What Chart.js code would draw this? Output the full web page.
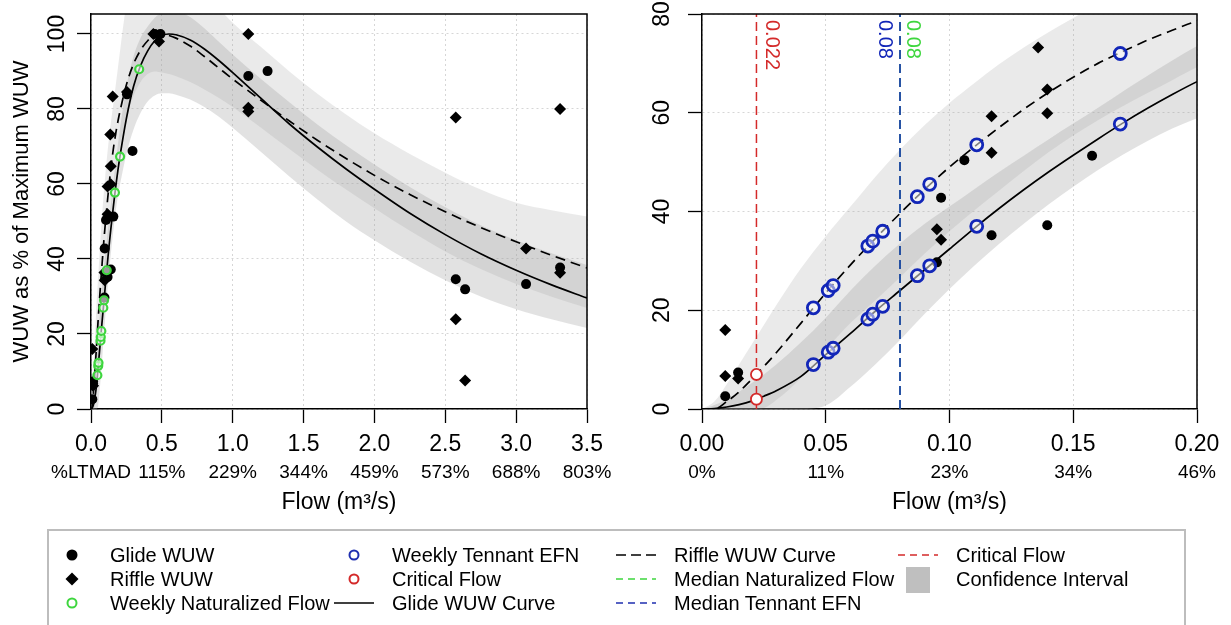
<!DOCTYPE html>
<html>
<head>
<meta charset="utf-8">
<script src="https://cdn.jsdelivr.net/npm/chart.js@4.4.1/dist/chart.umd.min.js"></script>
<style>
html,body{margin:0;padding:0;background:#fff;}
#wrap{position:relative;width:1231px;height:625px;overflow:hidden;font-family:'Liberation Sans',Arial,Helvetica,sans-serif;color:#000;}
#c1box{position:absolute;left:0;top:0;width:615px;height:525px;}
#c2box{position:absolute;left:615px;top:0;width:616px;height:525px;}
#legsym{position:absolute;left:0;top:0;}
.lt{position:absolute;font-size:20px;line-height:24px;white-space:nowrap;}
</style>
</head>
<body>
<div id="wrap">
  <div id="c1box"><canvas id="c1"></canvas></div>
  <div id="c2box"><canvas id="c2"></canvas></div>
  <svg id="legsym" width="1231" height="625">
    <rect x="48" y="530" width="1137" height="110" fill="none" stroke="#bdbdbd" stroke-width="2"/>
    <circle cx="72" cy="555" r="5.5" fill="#000"/>
    <polygon points="65.5,579 72,572.5 78.5,579 72,585.5" fill="#000"/>
    <circle cx="72" cy="603" r="4.5" fill="none" stroke="#3ed63e" stroke-width="2"/>
    <circle cx="354" cy="555" r="4.5" fill="none" stroke="#1f2fb0" stroke-width="2"/>
    <circle cx="354" cy="579" r="4.5" fill="none" stroke="#d42a2a" stroke-width="2"/>
    <line x1="334" y1="603" x2="374" y2="603" stroke="#000" stroke-width="1.6"/>
    <line x1="616" y1="555" x2="656" y2="555" stroke="#000" stroke-width="1.6" stroke-dasharray="10 5"/>
    <line x1="616" y1="579" x2="656" y2="579" stroke="#3ed63e" stroke-width="1.6" stroke-dasharray="7 5"/>
    <line x1="616" y1="603" x2="656" y2="603" stroke="#1f2fb0" stroke-width="1.6" stroke-dasharray="7 5"/>
    <line x1="898" y1="555" x2="938" y2="555" stroke="#d42a2a" stroke-width="1.6" stroke-dasharray="7 5"/>
    <rect x="906" y="567" width="24" height="26" fill="#bfbfbf"/>
  </svg>
  <div class="lt" style="left:110px;top:543px">Glide WUW</div>
  <div class="lt" style="left:110px;top:567px">Riffle WUW</div>
  <div class="lt" style="left:110px;top:591px">Weekly Naturalized Flow</div>
  <div class="lt" style="left:392px;top:543px">Weekly Tennant EFN</div>
  <div class="lt" style="left:392px;top:567px">Critical Flow</div>
  <div class="lt" style="left:392px;top:591px">Glide WUW Curve</div>
  <div class="lt" style="left:674px;top:543px">Riffle WUW Curve</div>
  <div class="lt" style="left:674px;top:567px">Median Naturalized Flow</div>
  <div class="lt" style="left:674px;top:591px">Median Tennant EFN</div>
  <div class="lt" style="left:956px;top:543px">Critical Flow</div>
  <div class="lt" style="left:956px;top:567px">Confidence Interval</div>
</div>
<script>
// ---------------- data ----------------
const flowGrid = [0, 0.005, 0.01, 0.015, 0.02, 0.025, 0.03, 0.04, 0.05, 0.06, 0.07, 0.08, 0.09, 0.1, 0.11, 0.12, 0.13, 0.14, 0.15, 0.16, 0.17, 0.18, 0.19, 0.2,
  0.25, 0.3, 0.35, 0.4, 0.45, 0.5, 0.55, 0.6, 0.7, 0.8, 0.9, 1.0, 1.2, 1.4, 1.6, 1.8, 2.0, 2.25, 2.5, 2.75, 3.0, 3.25, 3.5];
const glideCurve = [0, 0.1, 0.4, 0.9, 1.6, 2.6, 3.7, 6.6, 11.0, 15.3, 19.8, 24.0, 28.2, 32.4, 36.6, 40.6, 44.4, 48.0, 51.4, 54.7, 57.9, 60.9, 63.7, 66.3,
  77.5, 86.0, 91.6, 95.5, 98.2, 99.6, 100, 99.8, 98.4, 96.0, 93.0, 89.7, 82.8, 76.0, 69.8, 64.0, 58.6, 52.2, 46.5, 41.4, 37.0, 33.1, 29.6];
const riffleCurve = [0, 0, 1.5, 3.5, 6.0, 8.6, 11.4, 17.4, 23.5, 29.2, 34.5, 39.6, 44.5, 49.0, 53.1, 57.0, 60.7, 64.1, 67.2, 70.0, 72.4, 74.7, 76.7, 78.6,
  86.5, 92.0, 95.7, 98.2, 99.6, 100, 99.6, 98.9, 96.8, 94.0, 91.0, 88.0, 82.3, 76.8, 71.6, 66.8, 62.3, 57.2, 52.6, 48.4, 44.6, 41.0, 37.6];
const riffleBandLo = [0, 0, 0, 0, 0, 0.2, 1.8, 6.3, 12.0, 17.4, 22.0, 26.7, 31.5, 36.0, 40.2, 44.2, 48.2, 52.0, 55.4, 58.5, 61.3, 64.0, 66.6, 69.2,
  77.5, 83.5, 87.2, 89.3, 90.0, 89.7, 89.3, 88.7, 87.2, 85.2, 83.0, 80.5, 75.0, 69.3, 63.7, 58.5, 53.5, 47.5, 42.0, 37.3, 33.3, 29.9, 26.9];
const riffleBandHi = [0, 1.5, 5, 9, 13, 17, 21, 28.5, 35, 41, 47, 52.5, 57.5, 62, 66, 69.8, 73.2, 76.3, 79.2, 82, 85, 88, 91, 94,
  108, 116, 120, 122, 123, 123, 122, 121, 117, 112, 107, 103, 96.5, 90, 84, 78.5, 73.5, 68, 63, 58.5, 55, 53, 51.3];
const glideBandLo = [0, 0, 0, 0, 0, 0, 0, 0, 0.7, 4.5, 9, 14, 19.3, 24.3, 29, 33.4, 37.5, 41.4, 45, 48.4, 51.5, 54.3, 56.8, 58.9,
  68, 74.5, 79, 82, 83.6, 84.2, 84.2, 83.8, 82.5, 80.5, 78, 75, 68.5, 62, 55.8, 50, 45, 39.3, 34.3, 30, 26.6, 23.9, 21.6];
const glideBandHi = [0, 0.8, 2, 3.5, 5.2, 7, 9, 13.5, 18.5, 24, 29, 33.5, 37.5, 41, 44.5, 48, 51.3, 54.6, 57.8, 61, 64.3, 67.5, 70.6, 73.5,
  86, 94, 99, 102, 104.3, 105.8, 106.5, 106.2, 104.5, 101.5, 98, 94.5, 88, 81.8, 75.8, 70.3, 65.2, 59.2, 53.8, 49, 45, 41.5, 38.4];

const glideFlow = [0.0094, 0.0146, 0.0949, 0.0966, 0.106, 0.117, 0.1395, 0.1576, 0.254, 0.293, 0.45, 0.49, 1.11, 1.246, 2.574, 2.64, 3.07, 3.31];
const glideWUW  = [2.6, 7.4, 29.7, 42.8, 50.4, 35.2, 37.2, 51.3, 83.9, 68.8, 100, 100, 88.8, 90.1, 34.6, 31.9, 33.3, 37.7];
const riffleFlow = [0.0094, 0.0094, 0.0146, 0.0949, 0.0966, 0.117, 0.117, 0.1358, 0.1395, 0.1395, 0.153, 0.254, 0.44, 0.48, 1.11, 1.11, 1.11, 2.574, 2.574, 2.64, 3.07, 3.31, 3.31];
const riffleWUW  = [16.0, 6.7, 6.2, 36.4, 34.3, 59.3, 51.9, 73.2, 64.7, 59.9, 83.3, 84.5, 100, 98, 100, 80.3, 79.3, 77.7, 23.9, 7.6, 42.8, 80, 36.3];

const naturalFlow = [0.045, 0.051, 0.053, 0.067, 0.069, 0.073, 0.087, 0.092, 0.111, 0.169, 0.205, 0.34];
const naturalWUW  = [9, 11.5, 12.3, 18.2, 19.2, 20.8, 27, 29, 37, 57.7, 67.3, 90.6];
const tennantFlow = [0.045, 0.051, 0.053, 0.067, 0.069, 0.073, 0.087, 0.092, 0.111, 0.169];
const tennantGlideWUW  = [9, 11.5, 12.3, 18.2, 19.2, 20.8, 27, 29, 37, 57.7];
const tennantRiffleWUW = [20.5, 24, 25, 33, 34, 36, 43, 45.5, 53.5, 72];
const criticalFlow = 0.022;
const criticalWUW = [2, 7];
const medianNaturalFlow = 0.08;
const medianTennantFlow = 0.08;

const leftXTicks = [0, 0.5, 1.0, 1.5, 2.0, 2.5, 3.0, 3.5];
const leftXLabels = ['0.0', '0.5', '1.0', '1.5', '2.0', '2.5', '3.0', '3.5'];
const leftLtmad = ['%LTMAD', '115%', '229%', '344%', '459%', '573%', '688%', '803%'];
const leftYTicks = [0, 20, 40, 60, 80, 100];
const rightXTicks = [0, 0.05, 0.10, 0.15, 0.20];
const rightXLabels = ['0.00', '0.05', '0.10', '0.15', '0.20'];
const rightLtmad = ['0%', '11%', '23%', '34%', '46%'];
const rightYTicks = [0, 20, 40, 60, 80];

// ---------------- helpers ----------------
const FONT = "'Liberation Sans', Arial, Helvetica, sans-serif";
const RED = '#d42a2a', BLUE = '#1226b8', GREEN = '#3ed63e';
const BAND_R = 'rgba(160,160,160,0.22)';
const BAND_G = 'rgba(160,160,160,0.30)';
const pts = (xs, ys) => xs.map((x, i) => ({x: x, y: ys[i]}));

const boxPlugin = {
  id: 'box',
  afterDraw(chart) {
    const {ctx, chartArea: a} = chart;
    ctx.save();
    ctx.strokeStyle = '#000'; ctx.lineWidth = 1.5;
    ctx.beginPath();
    ctx.moveTo(a.left, a.top); ctx.lineTo(a.right, a.top); ctx.lineTo(a.right, a.bottom);
    ctx.stroke();
    ctx.restore();
  }
};
const yLabelPlugin = {
  id: 'yLabels',
  afterDraw(chart, args, opts) {
    const s = chart.scales.y, ctx = chart.ctx;
    ctx.save();
    ctx.font = '23px ' + FONT; ctx.fillStyle = '#000';
    ctx.textAlign = 'center'; ctx.textBaseline = 'middle';
    opts.ticks.forEach(v => {
      ctx.save();
      ctx.translate(opts.x, s.getPixelForValue(v));
      ctx.rotate(-Math.PI / 2);
      ctx.fillText(String(v), 0, 0);
      ctx.restore();
    });
    ctx.restore();
  }
};
const vLabelPlugin = {
  id: 'vLabels',
  afterDatasetsDraw(chart, args, opts) {
    if (!opts.items) return;
    const s = chart.scales.x, ctx = chart.ctx;
    ctx.save();
    ctx.font = '20px ' + FONT;
    ctx.textAlign = 'left'; ctx.textBaseline = 'middle';
    opts.items.forEach(it => {
      ctx.save();
      ctx.fillStyle = it.color;
      ctx.translate(s.getPixelForValue(it.value) + it.dx, chart.chartArea.top + 6);
      ctx.rotate(Math.PI / 2);
      ctx.fillText(String(it.value), 0, 0);
      ctx.restore();
    });
    ctx.restore();
  }
};

// lower "order" is drawn on top
function bandSets() {
  return [
    {order: 20, data: pts(flowGrid, riffleBandLo), borderWidth: 0, pointRadius: 0, fill: false, cubicInterpolationMode: 'monotone'},
    {order: 19, data: pts(flowGrid, riffleBandHi), borderWidth: 0, pointRadius: 0, fill: '-1', backgroundColor: BAND_R, cubicInterpolationMode: 'monotone'},
    {order: 18, data: pts(flowGrid, glideBandLo), borderWidth: 0, pointRadius: 0, fill: false, cubicInterpolationMode: 'monotone'},
    {order: 17, data: pts(flowGrid, glideBandHi), borderWidth: 0, pointRadius: 0, fill: '-1', backgroundColor: BAND_G, cubicInterpolationMode: 'monotone'},
    {order: 12, data: pts(flowGrid, glideCurve), borderColor: '#000', borderWidth: 1.7, pointRadius: 0, fill: false, cubicInterpolationMode: 'monotone'},
    {order: 11, data: pts(flowGrid, riffleCurve), borderColor: '#000', borderWidth: 1.7, borderDash: [10, 6], pointRadius: 0, fill: false, cubicInterpolationMode: 'monotone'}
  ];
}
function blackPoints() {
  return [
    {order: 6, data: pts(glideFlow, glideWUW), showLine: false, pointStyle: 'circle', pointRadius: 5, pointBackgroundColor: '#000', pointBorderWidth: 0},
    {order: 5, data: pts(riffleFlow, riffleWUW), showLine: false, pointStyle: 'rectRot', pointRadius: 6, pointBackgroundColor: '#000', pointBorderWidth: 0}
  ];
}

function makeChart(id, cfg) {
  const gridOpts = {color: '#d6d6d6', lineWidth: 1, tickLength: 14, tickColor: '#000', tickWidth: 1.3};
  const borderOpts = {display: true, color: '#000', width: 1.5, dash: [2, 3]};
  return new Chart(document.getElementById(id), {
    type: 'line',
    data: {datasets: cfg.datasets},
    options: {
      responsive: true, maintainAspectRatio: false, animation: false, events: [],
      layout: {padding: {left: 0, right: cfg.padRight, top: 14, bottom: 0}},
      plugins: {legend: {display: false}, tooltip: {enabled: false},
        yLabels: {x: cfg.yLabelX, ticks: cfg.yTicks},
        vLabels: {items: cfg.vItems}},
      scales: {
        x: {type: 'linear', min: cfg.xMin, max: cfg.xMax, position: 'bottom', weight: 0,
          afterBuildTicks: s => { s.ticks = cfg.xTicks.map(v => ({value: v})); },
          ticks: {font: {size: 23, family: FONT}, color: '#000', padding: 8, maxRotation: 0, minRotation: 0, autoSkip: false,
            callback: (v, i) => cfg.xLabels[i]},
          grid: gridOpts, border: borderOpts,
          afterFit: s => { s.height = 50; }},
        x2: {type: 'linear', min: cfg.xMin, max: cfg.xMax, position: 'bottom', weight: 1,
          afterBuildTicks: s => { s.ticks = cfg.xTicks.map(v => ({value: v})); },
          ticks: {font: {size: 19, family: FONT}, color: '#000', padding: 2, maxRotation: 0, minRotation: 0, autoSkip: false,
            callback: (v, i) => cfg.ltmad[i]},
          grid: {display: false, drawTicks: false}, border: {display: false},
          title: {display: true, text: 'Flow (m³/s)', font: {size: 23, family: FONT}, color: '#000', padding: {top: 0, bottom: 9}},
          afterFit: s => { s.height = 66; }},
        y: {type: 'linear', min: cfg.yMin, max: cfg.yMax,
          afterBuildTicks: s => { s.ticks = cfg.yTicks.map(v => ({value: v})); },
          ticks: {display: false},
          grid: gridOpts, border: borderOpts,
          title: {display: cfg.yTitle !== '', text: cfg.yTitle, font: {size: 22, family: FONT}, color: '#000', padding: {top: 9, bottom: 0}},
          afterFit: s => { s.width = cfg.yWidth; }}
      }
    },
    plugins: [boxPlugin, yLabelPlugin, vLabelPlugin]
  });
}

// ---------------- left panel ----------------
makeChart('c1', {
  xMin: 0, xMax: 3.5, yMin: 0, yMax: 105.33,
  xTicks: leftXTicks, xLabels: leftXLabels, ltmad: leftLtmad, yTicks: leftYTicks,
  yTitle: 'WUW as % of Maximum WUW', yWidth: 91, yLabelX: 58, padRight: 28,
  datasets: bandSets().concat(blackPoints(), [
    {order: 2, data: pts(naturalFlow, naturalWUW), showLine: false, pointStyle: 'circle', pointRadius: 4, pointBackgroundColor: 'rgba(255,255,255,0.6)', pointBorderColor: GREEN, pointBorderWidth: 2.2}
  ])
});

// ---------------- right panel ----------------
const rYMin = 0, rYMax = 80;
makeChart('c2', {
  xMin: 0, xMax: 0.2, yMin: rYMin, yMax: rYMax,
  xTicks: rightXTicks, xLabels: rightXLabels, ltmad: rightLtmad, yTicks: rightYTicks,
  yTitle: '', yWidth: 87, yLabelX: 48, padRight: 34,
  vItems: [
    {value: criticalFlow, color: RED, dx: 15},
    {value: medianTennantFlow, color: BLUE, dx: -15},
    {value: medianNaturalFlow, color: GREEN, dx: 13}
  ],
  datasets: bandSets().concat([
    {order: 10, data: [{x: medianNaturalFlow, y: rYMin}, {x: medianNaturalFlow, y: rYMax}], borderColor: GREEN, borderWidth: 1.5, borderDash: [9, 5], pointRadius: 0, fill: false},
    {order: 9, data: [{x: medianTennantFlow, y: rYMin}, {x: medianTennantFlow, y: rYMax}], borderColor: BLUE, borderWidth: 1.5, borderDash: [9, 5], pointRadius: 0, fill: false},
    {order: 8, data: [{x: criticalFlow, y: rYMin}, {x: criticalFlow, y: rYMax}], borderColor: RED, borderWidth: 1.5, borderDash: [9, 5], pointRadius: 0, fill: false}
  ], blackPoints(), [
    {order: 3, data: pts(tennantFlow, tennantGlideWUW), showLine: false, pointStyle: 'circle', pointRadius: 6, pointBackgroundColor: 'rgba(255,255,255,0.5)', pointBorderColor: BLUE, pointBorderWidth: 2.8},
    {order: 2, data: pts(tennantFlow, tennantRiffleWUW), showLine: false, pointStyle: 'circle', pointRadius: 6, pointBackgroundColor: 'rgba(255,255,255,0.5)', pointBorderColor: BLUE, pointBorderWidth: 2.8},
    {order: 1, data: [{x: criticalFlow, y: criticalWUW[0]}, {x: criticalFlow, y: criticalWUW[1]}], showLine: false, pointStyle: 'circle', pointRadius: 5.5, pointBackgroundColor: '#fff', pointBorderColor: RED, pointBorderWidth: 1.8}
  ])
});
</script>
</body>
</html>
